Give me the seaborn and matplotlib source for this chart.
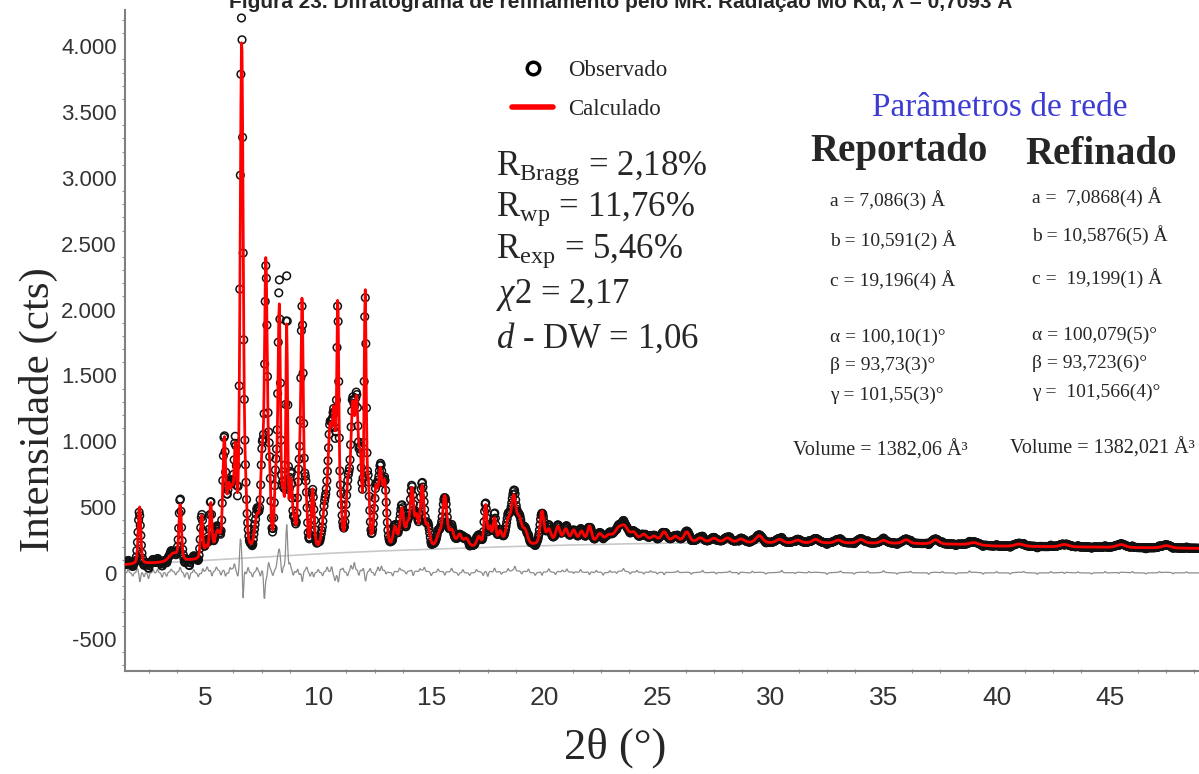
import numpy as np
import pandas as pd
import matplotlib
matplotlib.use("Agg")
import matplotlib.pyplot as plt
import seaborn as sns
from matplotlib.lines import Line2D
from matplotlib.ticker import MultipleLocator, FuncFormatter

# background of the refinement (2theta, cts)
bg_x = [1.45, 3, 5, 7.5, 10, 12.5, 15, 17.5, 20, 22.5, 25, 27.5, 30, 33, 36, 38.5, 40, 44, 49]
bg_y = [60, 75, 95, 120, 145, 165, 180, 195, 207, 217, 225, 228, 226, 226, 223, 216, 203, 196, 186]

peak_pos = [2.10, 3.60, 3.90, 4.85, 5.05, 5.25, 5.55, 5.85, 6.05, 6.20, 6.34, 6.62, 6.80,
            7.30, 7.52, 7.69, 7.85, 8.13, 8.28, 8.45, 8.61, 8.80, 8.95, 9.15, 9.29,
            9.45, 9.76, 10.30, 10.52, 10.70, 10.87, 11.00, 11.32, 11.52, 11.70, 11.87,
            12.08, 12.22, 12.55, 12.75, 12.95, 13.40, 13.70, 13.95, 14.15, 14.35, 14.60,
            14.85, 15.35, 15.60, 15.90, 16.25, 16.55, 17.10, 17.40, 17.60, 17.80, 18.05,
            18.40, 18.65, 18.90, 19.15, 19.90, 20.20, 20.60, 20.95, 21.30, 21.65, 22.00,
            22.45, 22.85, 23.25, 23.55, 23.95, 24.40, 24.85, 25.30, 25.80, 26.30, 26.90,
            27.50, 28.10, 28.70, 29.50, 30.40, 31.20, 32.00, 33.00, 34.00, 35.00, 36.00,
            37.30, 39.00, 41.00, 43.00, 45.50, 47.50]
peak_calc = [440, 60, 420, 330, 80, 400, 180, 850, 450, 350, 700, 3915, 300,
             250, 600, 2170, 500, 500, 1810, 350, 1660, 500, 150, 500, 1830,
             400, 450, 300, 800, 900, 1750, 250, 450, 950, 1000, 550,
             1900, 400, 400, 550, 450, 150, 290, 150, 430, 200, 460,
             150, 90, 380, 120, 90, 60, 70, 310, 130, 200, 100,
             170, 350, 170, 100, 250, 110, 130, 110, 100, 90, 130,
             70, 55, 90, 110, 70, 60, 45, 80, 45, 80, 35,
             32, 35, 28, 55, 28, 22, 28, 22, 28, 22, 28,
             32, 18, 18, 18, 22, 18]
peak_obs = [450, 70, 430, 320, 100, 420, 200, 870, 440, 380, 710, 4090, 280,
            260, 620, 2120, 540, 520, 1985, 380, 2020, 520, 160, 480, 1840,
            420, 460, 310, 810, 880, 1730, 280, 460, 970, 1020, 570,
            1880, 410, 410, 560, 470, 160, 310, 160, 450, 210, 480,
            160, 100, 390, 130, 90, 60, 80, 320, 140, 210, 110,
            180, 370, 180, 110, 260, 120, 140, 120, 110, 95, 140,
            75, 55, 100, 120, 75, 65, 50, 85, 50, 85, 40,
            37, 40, 33, 60, 33, 27, 33, 27, 33, 27, 33,
            37, 23, 23, 23, 27, 23]
peak_fwhm = [0.13, 0.45, 0.13, 0.12, 0.15, 0.12, 0.30, 0.15, 0.18, 0.15, 0.13, 0.16, 0.12,
             0.25, 0.15, 0.15, 0.12, 0.15, 0.13, 0.12, 0.10, 0.15, 0.12, 0.15, 0.13,
             0.13, 0.15, 0.25, 0.20, 0.18, 0.11, 0.12, 0.20, 0.18, 0.18, 0.15,
             0.11, 0.12, 0.18, 0.20, 0.18, 0.20, 0.20, 0.20, 0.18, 0.15, 0.20,
             0.20, 0.25, 0.22, 0.25, 0.25, 0.25, 0.20, 0.15, 0.15, 0.15, 0.20,
             0.25, 0.25, 0.25, 0.25, 0.20, 0.25, 0.25, 0.25, 0.25, 0.25, 0.22,
             0.30, 0.35, 0.40, 0.40, 0.35, 0.35, 0.35, 0.30, 0.35, 0.30, 0.35,
             0.35, 0.35, 0.35, 0.35, 0.35, 0.35, 0.35, 0.35, 0.35, 0.35, 0.35,
             0.35, 0.45, 0.45, 0.45, 0.45, 0.45]

# residual wiggles (2theta, cts)
misfit_pos = [1.6, 1.8, 2.0, 2.12, 2.3, 2.5, 2.7, 2.9, 3.1, 3.3, 3.5, 3.7, 3.9, 4.1, 4.3, 4.5, 4.7, 4.9,
              5.1, 5.3, 5.5, 5.7, 5.9, 6.1, 6.3, 6.45, 6.56, 6.68, 6.9, 7.1, 7.3, 7.45, 7.62,
              7.8, 8.0, 8.2, 8.4, 8.75, 8.9, 9.1, 9.3, 9.5, 9.65, 9.8, 10.0, 10.2, 10.4, 10.6,
              10.75, 10.9, 11.1, 11.3, 11.45, 11.6, 11.8, 12.0, 12.1, 12.3, 12.5, 12.65, 12.8, 13.0,
              13.3, 13.6, 13.9, 14.2, 14.5, 14.7, 15.0, 15.3, 15.6, 15.9, 16.2, 16.4, 16.7, 17.0,
              17.3, 17.5, 17.8, 18.1, 18.4, 18.7, 19.0, 19.3, 19.6, 19.9, 20.2, 20.5, 20.8, 21.0,
              21.3, 21.6, 22.0, 22.3, 22.6, 22.9, 23.2, 23.5, 23.8, 24.1, 24.4, 24.7, 25.0,
              25.3, 25.9, 26.5, 27.0, 27.6, 28.2, 28.6, 29.2, 29.8, 30.5, 31.1, 31.7, 32.5,
              33.1, 33.7, 34.3, 35.0, 35.6, 36.2, 37.0, 37.6, 38.2, 38.8, 39.4, 40.0, 40.6,
              41.2, 41.8, 42.4, 43.0, 43.6, 44.2, 44.8, 45.4, 46.0, 46.6, 47.2, 47.8, 48.4]
misfit_h = [30, -25, 35, -80, -30, -45, 25, 30, -35, -30, 20, -25, 30, -35, -50, 25, -30, 35,
            30, -40, 25, -30, -40, 35, 50, -45, 140, -300, 40, -35, 30, -40, -190,
            60, -30, 40, -50, 45, -35, 40, -80, 30, -30, -40, 25, -30, 35, 50,
            -45, -60, 30, -35, 40, 60, -40, 35, -50, 30, -30, 35, 40, -25,
            -30, 25, -20, -40, 20, 30, -25, 20, -30, 25, -20, 25, -20, 20,
            -25, -35, 25, -20, 20, 30, -20, 25, -20, -30, 20, -20, 15, 20,
            -15, 20, -25, 15, -20, 15, -15, 20, -15, 15, -15, 12, -12,
            -20, 12, -12, 15, -12, 10, -15, 12, -10, 15, -10, 10, -12,
            10, -10, 12, 12, -10, 10, -12, 10, -10, 12, -10, 10, -10,
            8, -10, 10, -10, 8, -8, 10, -8, 10, -8, 8, -8, 8]

title = "Figura 23. Difratograma de refinamento pelo MR. Radiação Mo Kα, λ = 0,7093 Å"
stats = ["R$_{\\mathrm{Bragg}}$ = 2,18%", "R$_{\\mathrm{wp}}$ = 11,76%",
         "R$_{\\mathrm{exp}}$ = 5,46%", "$\\chi$2 = 2,17", "$\\mathit{d}$ - DW = 1,06"]
rep_params = ["a = 7,086(3) Å", "b = 10,591(2) Å", "c = 19,196(4) Å",
              "α = 100,10(1)°", "β = 93,73(3)°", "γ = 101,55(3)°"]
ref_params = ["a =  7,0868(4) Å", "b = 10,5876(5) Å", "c =  19,199(1) Å",
              "α = 100,079(5)°", "β = 93,723(6)°", "γ =  101,566(4)°"]
rep_volume = "Volume = 1382,06 Å³"
ref_volume = "Volume = 1382,021 Å³"


def pv(tt, pos, heights, widths, eta=0.35):
    # sum of pseudo-Voigt reflections
    y = np.zeros_like(tt)
    for p, h, w in zip(pos, heights, widths):
        d = (tt - p) / w
        y = y + h * (eta / (1 + 4 * d ** 2) + (1 - eta) * np.exp(-4 * np.log(2) * d ** 2))
    return y


tt = np.arange(1.46, 48.96, 0.025)
bg = np.interp(tt, bg_x, bg_y)
df = pd.DataFrame({"tt": tt, "bg": bg,
                   "calc": bg + pv(tt, peak_pos, peak_calc, peak_fwhm),
                   "obs": bg + pv(tt, peak_pos, peak_obs, peak_fwhm)
                   + pv(tt, misfit_pos, misfit_h, [0.07] * len(misfit_pos), eta=0)})
df["diff"] = df["obs"] - df["calc"]

sns.set_style("white")
plt.rcParams["font.family"] = ["Liberation Serif", "DejaVu Serif"]
plt.rcParams["mathtext.fontset"] = "custom"
plt.rcParams["mathtext.rm"] = "Liberation Serif"
plt.rcParams["mathtext.it"] = "Liberation Serif:italic"
plt.rcParams["mathtext.bf"] = "Liberation Serif:bold"

W, H = 1199, 774
fig = plt.figure(figsize=(W / 100, H / 100), dpi=100)
ax = fig.add_axes([125 / W, 1 - 671 / H, 1 - 125 / W, (671 - 10) / H])

sns.lineplot(data=df, x="tt", y="bg", ax=ax, color="#c8c8c8", lw=1.2, estimator=None, zorder=1)
sns.lineplot(data=df, x="tt", y="diff", ax=ax, color="#8c8c8c", lw=0.9, estimator=None, zorder=2)
sns.scatterplot(data=df, x="tt", y="obs", ax=ax, marker="o", s=30, facecolor="none",
                edgecolor="#111111", linewidth=1.1, zorder=3)
sns.lineplot(data=df, x="tt", y="calc", ax=ax, color="#ff0000", lw=2, estimator=None, zorder=4)

ax.set_xlim(1.46, 48.95)
ax.set_ylim(-745, 4275)
ax.xaxis.set_major_locator(MultipleLocator(5))
ax.xaxis.set_minor_locator(MultipleLocator(1.25))
ax.yaxis.set_major_locator(MultipleLocator(500))
ax.yaxis.set_minor_locator(MultipleLocator(100))
ax.yaxis.set_major_formatter(FuncFormatter(lambda v, p: f"{int(v):,}".replace(",", ".")))

for s in ["top", "right"]:
    ax.spines[s].set_visible(False)
for s in ["left", "bottom"]:
    ax.spines[s].set_color("#808080")
    ax.spines[s].set_linewidth(1.5)

ax.tick_params(axis="y", which="major", direction="out", length=4, width=1, color="#808080",
               labelsize=16, labelcolor="#333333", pad=2)
ax.tick_params(axis="y", which="minor", direction="out", length=2, width=0.8, color="#909090", left=True)
ax.tick_params(axis="x", which="major", direction="inout", length=5, width=1, color="#808080",
               labelsize=19, labelcolor="#333333", pad=8)
ax.tick_params(axis="x", which="minor", direction="inout", length=3, width=0.8, color="#909090", bottom=True)
for lab in ax.get_xticklabels() + ax.get_yticklabels():
    lab.set_fontfamily("Liberation Sans")

ax.set_xlabel("2θ (°)", fontsize=32)
ax.set_ylabel("Intensidade (cts)", fontsize=31)
ax.xaxis.label.set_va("center")
ax.yaxis.label.set_va("center")
ax.xaxis.set_label_coords((615 - 125) / 1074, -(748 - 671) / 661)
ax.yaxis.set_label_coords((38 - 125) / 1074, (671 - 410) / 661)

handles = [Line2D([], [], marker="o", ls="", mfc="none", mec="black", ms=9, mew=2.5),
           Line2D([], [], color="#ff0000", lw=4)]
ax.legend(handles, ["Observado", "Calculado"], loc="center left",
          bbox_to_anchor=(512 / W, 1 - 90 / H), bbox_transform=fig.transFigure,
          frameon=False, fontsize=16.5, handlelength=1.8, handletextpad=0.65,
          labelspacing=0.75, borderpad=0, borderaxespad=0)

fig.text(621 / W, 1 - 8 / H, title, ha="center", va="baseline", fontsize=15,
         fontweight="bold", family="Liberation Sans")

for txt, yc in zip(stats, [168, 209, 251, 295, 338]):
    fig.text(496 / W, 1 - yc / H, txt, ha="left", va="center", fontsize=25)

fig.text(1000 / W, 1 - 108 / H, "Parâmetros de rede", ha="center", va="center",
         fontsize=24, color="#3c3cd2")
fig.text(899 / W, 1 - 152 / H, "Reportado", ha="center", va="center", fontsize=28, fontweight="bold")
fig.text(1101 / W, 1 - 154 / H, "Refinado", ha="center", va="center", fontsize=28, fontweight="bold")

for txt, yc in zip(rep_params, [200, 240, 280, 337, 365, 395]):
    fig.text(830 / W, 1 - yc / H, txt, ha="left", va="center", fontsize=14)
for txt, yc in zip(ref_params, [197, 235, 278, 335, 363, 392]):
    fig.text(1032 / W, 1 - yc / H, txt, ha="left", va="center", fontsize=14)
fig.text(793 / W, 1 - 450 / H, rep_volume, ha="left", va="center", fontsize=14.5)
fig.text(1010 / W, 1 - 448 / H, ref_volume, ha="left", va="center", fontsize=14.5)

fig.savefig("out.png", dpi=100)
